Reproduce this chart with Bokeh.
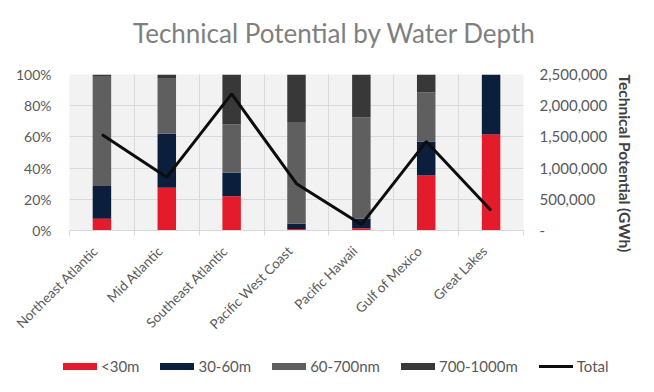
import numpy as np
from bokeh.plotting import figure
from bokeh.layouts import column
from bokeh.models import (Range1d, LinearAxis, FixedTicker, Div, Title,
                          PrintfTickFormatter, NumeralTickFormatter)
from bokeh.embed import file_html
from bokeh.resources import INLINE

# Offshore wind technical potential, share by water-depth band (%) and total (GWh)
regions = ["Northeast Atlantic", "Mid Atlantic", "Southeast Atlantic",
           "Pacific West Coast", "Pacific Hawaii", "Gulf of Mexico", "Great Lakes"]
depth_lt30 = [7.5, 27.4, 22.0, 1.0, 1.5, 35.3, 61.5]
depth_30_60 = [21.0, 34.6, 15.0, 3.3, 6.0, 21.7, 38.5]
depth_60_700 = [70.0, 35.2, 31.0, 65.2, 65.1, 31.7, 0.0]
depth_700_1000 = [1.5, 2.8, 32.0, 30.5, 27.4, 11.3, 0.0]
total_gwh = [1540000, 855000, 2190000, 750000, 95000, 1425000, 320000]

series_names = ["<30m", "30-60m", "60-700nm", "700-1000m"]
series_colors = ["#e31b2b", "#0b1f3d", "#5f5f5f", "#383838"]
total_name = "Total"
chart_title = "Technical Potential by Water Depth"
right_axis_title = "Technical Potential (GWh)"

FONT = "Lato"
LABEL_COLOR = "#595959"
GRID_COLOR = "#d9d9d9"
LINE_COLOR = "#0d0d0d"

n = len(regions)
centers = np.arange(n) + 0.5
bounds = list(np.arange(n + 1, dtype=float))
label_anchor = list(centers - 0.1)   # rotated names end just left of each bar

W, H_TITLE, H_MAIN, H_LEGEND = 654, 50, 295, 47

# Title strip
title_div = Div(
    text=(f'<div style="padding:18px 0 0 133px;font-family:{FONT};font-size:26px;'
          f'line-height:1.2;color:#7f7f7f;white-space:nowrap;">{chart_title}</div>'),
    width=W, height=H_TITLE, margin=0)

p = figure(width=W, height=H_MAIN, output_backend="svg", toolbar_location=None,
           x_range=Range1d(0, n), y_range=Range1d(0, 100),
           min_border_left=69, min_border_right=131,
           min_border_top=74 - H_TITLE, min_border_bottom=H_MAIN - (230 - H_TITLE),
           background_fill_color="#f2f2f2", border_fill_color="white",
           outline_line_color=None)
p.extra_y_ranges = {"total": Range1d(0, 2500000)}

# Stacked percentage bars
data = {"x": list(centers)}
for name, vals in zip(series_names, [depth_lt30, depth_30_60, depth_60_700, depth_700_1000]):
    data[name] = vals
p.vbar_stack(series_names, x="x", width=0.285, source=data,
             color=series_colors, line_color=None)

# Total potential line on the secondary axis
p.line(list(centers), total_gwh, y_range_name="total", line_color=LINE_COLOR, line_width=3)

# Grid
p.xgrid.ticker = FixedTicker(ticks=bounds)
p.ygrid.ticker = FixedTicker(ticks=[0, 20, 40, 60, 80, 100])
for g in (p.xgrid[0], p.ygrid[0]):
    g.grid_line_color = GRID_COLOR
    g.grid_line_width = 1

# Bottom axis: region names, tick marks between categories
xa = p.xaxis[0]
xa.ticker = FixedTicker(ticks=label_anchor, minor_ticks=bounds)
xa.major_label_overrides = {c: r for c, r in zip(label_anchor, regions)}
xa.major_label_orientation = np.pi / 4
xa.major_tick_line_color = None
xa.minor_tick_in = 0
xa.minor_tick_out = 5
xa.minor_tick_line_color = GRID_COLOR
xa.axis_line_color = GRID_COLOR
xa.major_label_text_font = FONT
xa.major_label_text_font_size = "13.5px"
xa.major_label_text_color = LABEL_COLOR
xa.major_label_standoff = 12

# Left axis: percentage
ya = p.yaxis[0]
ya.ticker = FixedTicker(ticks=[0, 20, 40, 60, 80, 100])
ya.formatter = PrintfTickFormatter(format="%d%%")
ya.axis_line_color = None
ya.major_tick_line_color = None
ya.minor_tick_line_color = None
ya.major_label_standoff = 12
ya.major_label_text_font = FONT
ya.major_label_text_font_size = "14px"
ya.major_label_text_color = LABEL_COLOR

# Right axis: total technical potential
ra = LinearAxis(y_range_name="total",
                ticker=FixedTicker(ticks=[0, 500000, 1000000, 1500000, 2000000, 2500000]),
                formatter=NumeralTickFormatter(format="0,0"))
ra.major_label_overrides = {0: "-"}
ra.axis_line_color = None
ra.major_tick_line_color = None
ra.minor_tick_line_color = None
ra.major_label_standoff = 10
ra.major_label_text_font = FONT
ra.major_label_text_font_size = "15px"
ra.major_label_text_color = LABEL_COLOR
p.add_layout(ra, "right")

# Right-hand axis title, reading downwards from the top of the plot area
rt = Title(text=right_axis_title, align="left", text_font=FONT,
           text_font_size="15.5px", text_font_style="bold", text_color="#404040",
           standoff=10)
p.add_layout(rt, "right")

# Legend strip below the chart
def swatch(color, h):
    return (f'<span style="display:inline-block;width:34px;height:{h}px;'
            f'background:{color};margin-right:4px;vertical-align:middle;"></span>')

entries = [swatch(c, 7) + f'<span>{name.replace("<", "&lt;")}</span>'
           for name, c in zip(series_names, series_colors)]
entries.append(swatch(LINE_COLOR, 3) + f'<span>{total_name}</span>')
items_html = "".join(
    f'<span style="display:inline-flex;align-items:center;margin-right:21px;">{e}</span>'
    for e in entries)
legend_div = Div(
    text=(f'<div style="display:flex;align-items:center;height:{H_LEGEND - 3}px;'
          f'padding-left:63px;font-family:{FONT};font-size:15px;color:{LABEL_COLOR};'
          f'white-space:nowrap;">{items_html}</div>'),
    width=W, height=H_LEGEND, margin=0)

open("out.html", "w").write(
    file_html(column(title_div, p, legend_div, spacing=0), INLINE))
